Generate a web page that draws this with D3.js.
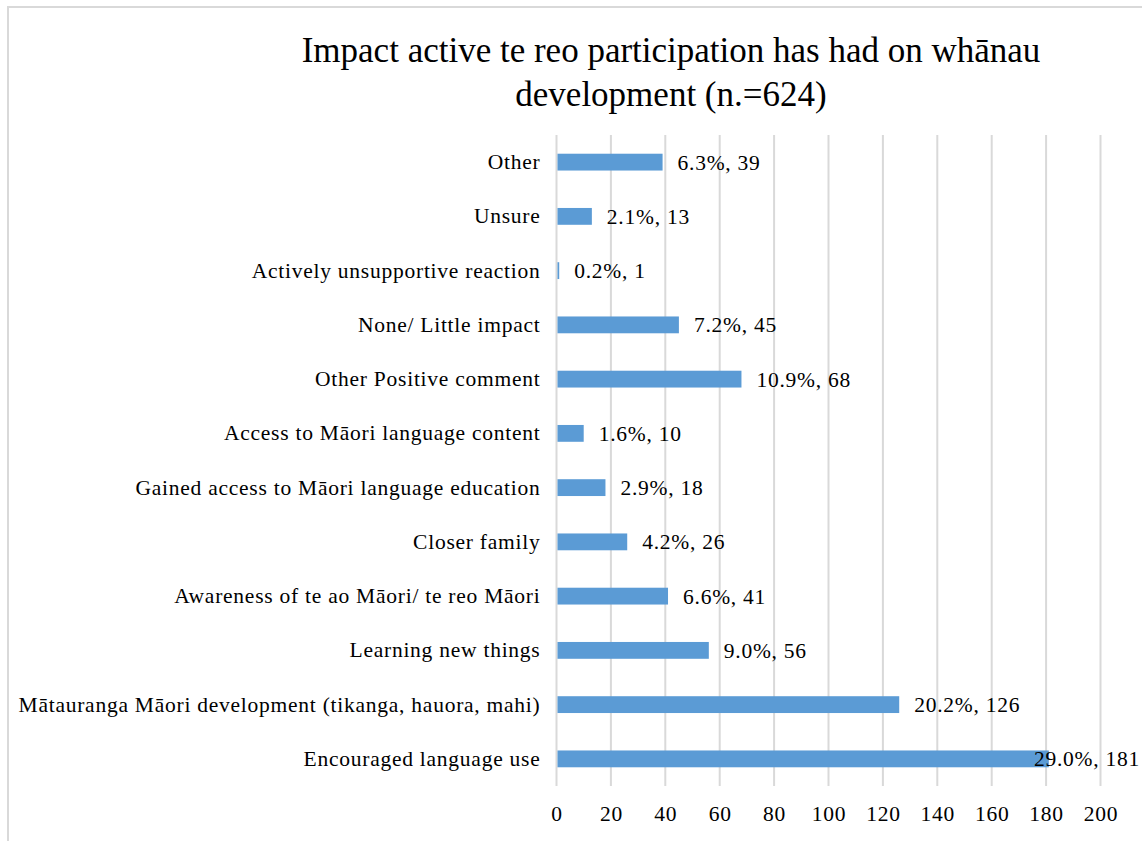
<!DOCTYPE html>
<html><head><meta charset="utf-8">
<script src="https://cdn.jsdelivr.net/npm/d3@7"></script>
<style>
html,body{margin:0;padding:0;background:#fff;}
svg{display:block;font-family:"Liberation Serif","Times New Roman",serif;}
</style></head>
<body><svg id="chart" width="1142" height="841"></svg>
<script>
const categories = ["Other","Unsure","Actively unsupportive reaction","None/ Little impact","Other Positive comment","Access to Māori language content","Gained access to Māori language education","Closer family","Awareness of te ao Māori/ te reo Māori","Learning new things","Mātauranga Māori development (tikanga, hauora, mahi)","Encouraged language use"];
const counts = [39,13,1,45,68,10,18,26,41,56,126,181];
const percents = ["6.3%","2.1%","0.2%","7.2%","10.9%","1.6%","2.9%","4.2%","6.6%","9.0%","20.2%","29.0%"];
const tickValues = [0,20,40,60,80,100,120,140,160,180,200];
const titleLines = ["Impact active te reo participation has had on whānau","development (n.=624)"];

(function(){
const FS = 21.5, LS = 0.75;
const svg = d3.select("#chart");
svg.append("rect").attr("x",8).attr("y",7).attr("width",1200).attr("height",900)
  .attr("fill","#fff").attr("stroke","#d9d9d9").attr("stroke-width",2);

const pLeft = 556.5, pRight = 1100.5, pTop = 135, pBottom = 786;
const x = d3.scaleLinear().domain([0,200]).range([pLeft,pRight]);
const y = d3.scaleBand().domain(categories).range([pTop,pBottom]).paddingInner(0.69).paddingOuter(0.345);

svg.append("g").selectAll("line").data(tickValues).join("line")
  .attr("x1",d=>x(d)).attr("x2",d=>x(d)).attr("y1",pTop).attr("y2",pBottom)
  .attr("stroke","#d9d9d9").attr("stroke-width",2);

svg.append("g").selectAll("rect").data(categories).join("rect")
  .attr("x",x(0)+1).attr("y",d=>y(d)).attr("height",y.bandwidth())
  .attr("width",(d,i)=>x(counts[i])-x(0)-1).attr("fill","#5b9bd5");

const xAxis = d3.axisBottom(x).tickValues(tickValues).tickSize(0).tickPadding(0);
const gx = svg.append("g").attr("transform",`translate(0,${pBottom+20})`).call(xAxis);
gx.select(".domain").remove();
gx.selectAll("text").attr("font-size",FS).attr("letter-spacing",LS).attr("font-family","Liberation Serif").attr("fill","#000").attr("dy","0.71em");

const yAxis = d3.axisLeft(y).tickSize(0).tickPadding(16);
const gy = svg.append("g").attr("transform",`translate(${pLeft},0)`).call(yAxis);
gy.select(".domain").remove();
gy.selectAll("text").attr("font-size",FS).attr("letter-spacing",LS).attr("font-family","Liberation Serif").attr("fill","#000");

const vl = svg.append("g").selectAll("text").data(categories).join("text")
  .attr("y",d=>y(d)+y.bandwidth()/2).attr("dy","0.35em")
  .attr("font-size",FS).attr("letter-spacing",LS).attr("fill","#000")
  .text((d,i)=>`${percents[i]}, ${counts[i]}`);
vl.each(function(d,i){
  const w = this.getComputedTextLength();
  let px = x(counts[i]) + 15;
  if (px + w > 1140) px = 1140 - w;
  d3.select(this).attr("x",px);
});

svg.append("g").selectAll("text").data(titleLines).join("text")
  .attr("x",671).attr("y",(d,i)=>62+i*43.5).attr("text-anchor","middle")
  .attr("font-size",35).attr("fill","#000").text(d=>d);
})();
</script></body></html>
